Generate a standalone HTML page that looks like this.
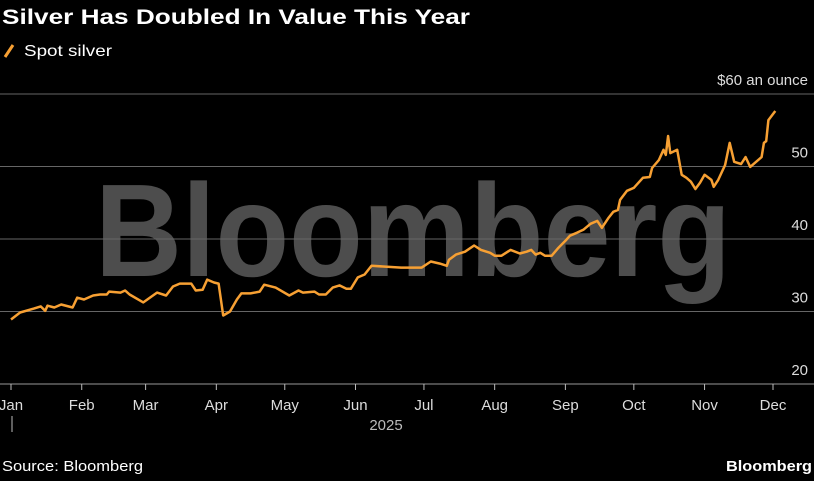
<!DOCTYPE html>
<html><head><meta charset="utf-8"><style>
body{margin:0;background:#000;width:814px;height:476px;overflow:hidden;font-family:"Liberation Sans",sans-serif;color:#fff}
svg text{font-family:"Liberation Sans",sans-serif}
</style></head><body>
<svg width="814" height="476">
<text x="2" y="24" font-size="21" font-weight="bold" fill="#fff" textLength="468" lengthAdjust="spacingAndGlyphs">Silver Has Doubled In Value This Year</text>
<line x1="5" y1="57" x2="13" y2="45" stroke="#f7a033" stroke-width="3"/>
<text x="24" y="56" font-size="16" fill="#fff" textLength="88" lengthAdjust="spacingAndGlyphs">Spot silver</text>
<text x="95" y="276" font-size="132" font-weight="bold" fill="#4d4d4d" textLength="636" lengthAdjust="spacingAndGlyphs">Bloomberg</text>
<g id="grid"></g>
<g id="xaxis"></g>
<path id="line" fill="none" stroke="#f7a033" stroke-width="2.5" stroke-linejoin="round"/>
<text x="386" y="430" font-size="15" fill="#bbb" text-anchor="middle">2025</text>
<line x1="12" y1="416" x2="12" y2="432" stroke="#bbb"/>
<text x="2" y="471" font-size="15" fill="#fff" textLength="141" lengthAdjust="spacingAndGlyphs">Source: Bloomberg</text>
<text x="812" y="471" font-size="15" font-weight="bold" fill="#fff" text-anchor="end" textLength="86" lengthAdjust="spacingAndGlyphs">Bloomberg</text>
</svg>
<script>
const days=[0,4,10,13,15,16,19,22,27,29,32,36,39,42,43,48,50,52,58,64,68,71,74,79,81,84,86,89,91,93,96,99,101,105,109,111,116,122,126,128,133,135,138,141,144,147,149,152,155,158,171,180,184,188,191,192,195,199,203,206,210,212,215,219,223,226,228,230,232,234,237,240,243,245,248,251,254,257,259,262,264,266,267,270,273,275,277,280,281,284,286,287,288,289,292,294,296,298,300,302,304,307,308,310,313,315,317,320,322,324,329,330,331,332,335];
const prices=[28.9,29.86,30.4,30.7,30.1,30.8,30.55,30.96,30.55,31.9,31.65,32.2,32.35,32.35,32.75,32.6,32.9,32.35,31.25,32.6,32.2,33.45,33.85,33.85,32.9,33.0,34.4,34.0,33.85,29.45,30.0,31.65,32.5,32.5,32.75,33.7,33.3,32.2,32.9,32.6,32.75,32.35,32.35,33.3,33.6,33.15,33.15,34.7,35.1,36.3,36.05,36.05,36.9,36.6,36.3,37.15,37.85,38.25,39.1,38.5,38.1,37.7,37.7,38.5,38.0,38.25,38.5,37.85,38.1,37.7,37.7,38.8,39.75,40.45,40.85,41.3,42.1,42.5,41.55,42.95,43.75,44.0,45.4,46.65,47.05,47.75,48.45,48.55,49.8,50.9,52.3,51.6,54.2,51.85,52.3,48.85,48.45,47.9,46.9,47.75,48.85,48.15,47.2,48.15,50.2,53.25,50.65,50.35,51.3,49.95,51.3,53.25,53.5,56.4,57.65];
const yTicks=[20,30,40,50,60];
const yTickLabels=["20","30","40","50","$60 an ounce"];
const months=["Jan","Feb","Mar","Apr","May","Jun","Jul","Aug","Sep","Oct","Nov","Dec"];
const monthDays=[0,31,59,90,120,151,181,212,243,273,304,334];
const ns="http://www.w3.org/2000/svg";
const X=d=>11+d*(762/334);
const Y=v=>384-(v-20)*7.25;
const grid=document.getElementById('grid');
yTicks.forEach((t,i)=>{
  if(t>20){const l=document.createElementNS(ns,'line');
  l.setAttribute('x1',0);l.setAttribute('x2',814);l.setAttribute('y1',Y(t));l.setAttribute('y2',Y(t));
  l.setAttribute('stroke','#666');l.setAttribute('stroke-width','1');
  
  
  grid.appendChild(l);}
  const tx=document.createElementNS(ns,'text');
  tx.setAttribute('x',808);tx.setAttribute('y',Y(t)-9);tx.setAttribute('text-anchor','end');
  tx.setAttribute('font-size','15');tx.setAttribute('fill','#ddd');tx.textContent=yTickLabels[i];
  
  
  grid.appendChild(tx);
});
const xa=document.getElementById('xaxis');
const base=document.createElementNS(ns,'line');
base.setAttribute('x1',0);base.setAttribute('x2',814);base.setAttribute('y1',384);base.setAttribute('y2',384);base.setAttribute('stroke','#999');


xa.appendChild(base);
months.forEach((m,i)=>{
  const x=X(monthDays[i]);
  const tk=document.createElementNS(ns,'line');
  tk.setAttribute('x1',x);tk.setAttribute('x2',x);tk.setAttribute('y1',384);tk.setAttribute('y2',390);tk.setAttribute('stroke','#bbb');
  
  
  xa.appendChild(tk);
  const tx=document.createElementNS(ns,'text');
  tx.setAttribute('x',x);tx.setAttribute('y',410);tx.setAttribute('text-anchor','middle');
  tx.setAttribute('font-size','15');tx.setAttribute('fill','#ddd');tx.textContent=m;
  
  
  xa.appendChild(tx);
});
document.getElementById('line').setAttribute('d',days.map((d,i)=>(i?'L':'M')+X(d).toFixed(1)+','+Y(prices[i]).toFixed(1)).join(''));
</script>
</body></html>
